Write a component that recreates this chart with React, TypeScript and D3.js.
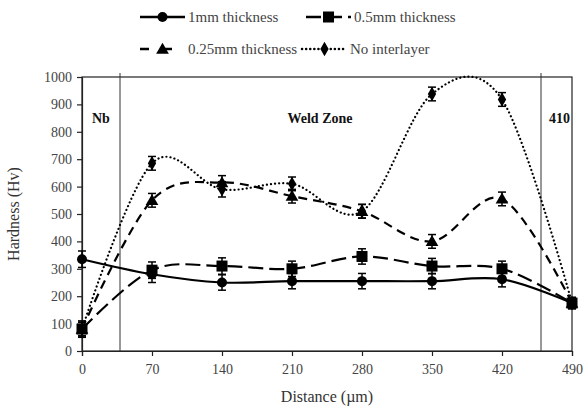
import React, { useEffect, useRef } from 'react';
import * as d3 from 'd3';

// distances along the joint (µm)
const distances = [0, 70, 140, 210, 280, 350, 420, 490];

const hv1mm = [335, 280, 250, 255, 255, 255, 262, 175];
const hv05mm = [80, 295, 310, 300, 345, 310, 300, 175];
const hv025mm = [80, 550, 615, 565, 510, 400, 555, 175];
const hvNone = [80, 685, 590, 610, 510, 938, 918, 175];

const err1mm = [30, 30, 28, 28, 28, 28, 28, 20];
const err05mm = [30, 30, 30, 28, 28, 28, 28, 20];
const err025mm = [25, 25, 25, 25, 25, 25, 25, 20];
const errNone = [25, 25, 28, 25, 25, 25, 25, 20];

const seriesNames = ['1mm thickness', '0.5mm thickness', '0.25mm thickness', 'No interlayer'];
const yTicks = [0, 100, 200, 300, 400, 500, 600, 700, 800, 900, 1000];
const zoneBounds = [38, 459];

const series = [
  { name: seriesNames[0], values: hv1mm, errs: err1mm, dash: null, marker: 'circle' },
  { name: seriesNames[1], values: hv05mm, errs: err05mm, dash: '15,6', marker: 'square' },
  { name: seriesNames[2], values: hv025mm, errs: err025mm, dash: '9,6', marker: 'triangle' },
  { name: seriesNames[3], values: hvNone, errs: errNone, dash: '0.1,4', marker: 'diamond' },
];

function drawMarker(g, kind, x, y) {
  if (kind === 'circle') {
    g.append('circle').attr('cx', x).attr('cy', y).attr('r', 5).attr('fill', '#000');
  } else if (kind === 'square') {
    g.append('rect').attr('x', x - 5.5).attr('y', y - 5.5).attr('width', 11).attr('height', 11).attr('fill', '#000');
  } else if (kind === 'triangle') {
    g.append('path').attr('d', d3.symbol(d3.symbolTriangle, 70)()).attr('transform', `translate(${x},${y + 1})`).attr('fill', '#000');
  } else {
    g.append('path').attr('d', d3.symbol(d3.symbolDiamond, 60)()).attr('transform', `translate(${x},${y})`).attr('fill', '#000');
  }
}

function Chart() {
  const ref = useRef(null);
  const width = 586;
  const height = 412;

  useEffect(() => {
    const svg = d3.select(ref.current);
    svg.selectAll('*').remove();

    const margin = { top: 77, right: 14, bottom: 61, left: 82 };
    const x = d3.scaleLinear().domain([0, 490]).range([margin.left, width - margin.right]);
    const y = d3.scaleLinear().domain([0, 1000]).range([height - margin.bottom, margin.top]);

    const font = '"Liberation Serif", "Times New Roman", serif';

    // frame
    svg.append('rect')
      .attr('x', x(0)).attr('y', y(1000))
      .attr('width', x(490) - x(0)).attr('height', y(0) - y(1000))
      .attr('fill', 'none').attr('stroke', '#222').attr('stroke-width', 1.2);

    const xAxis = svg.append('g')
      .attr('transform', `translate(0,${y(0)})`)
      .call(d3.axisBottom(x).tickValues(distances).tickFormat(d3.format('d')).tickSizeOuter(0).tickSize(5).tickPadding(8));
    const yAxis = svg.append('g')
      .attr('transform', `translate(${x(0)},0)`)
      .call(d3.axisLeft(y).tickValues(yTicks).tickFormat(d3.format('d')).tickSizeOuter(0).tickSize(5).tickPadding(5));
    [xAxis, yAxis].forEach(a => {
      a.selectAll('text').attr('font-family', font).attr('font-size', 14).attr('fill', '#444');
      a.selectAll('line, path').attr('stroke', '#222').attr('stroke-width', 1.2);
    });

    // zone boundaries
    zoneBounds.forEach(b => {
      svg.append('line')
        .attr('x1', x(b)).attr('x2', x(b))
        .attr('y1', y(0)).attr('y2', y(1000) - 4)
        .attr('stroke', '#333').attr('stroke-width', 1);
    });

    const labels = [
      { t: 'Nb', x: x(0) + 10, a: 'start' },
      { t: 'Weld Zone', x: x(238), a: 'middle' },
      { t: '410', x: x(490) - 2, a: 'end' },
    ];
    labels.forEach(l => {
      svg.append('text')
        .attr('x', l.x).attr('y', y(850) + 5)
        .attr('text-anchor', l.a)
        .attr('font-family', font).attr('font-size', 14).attr('font-weight', 'bold')
        .attr('fill', '#111')
        .text(l.t);
    });

    const line = d3.line()
      .x((d, i) => x(distances[i]))
      .y(d => y(d))
      .curve(d3.curveCardinal.tension(0));

    series.forEach(s => {
      svg.append('path')
        .datum(s.values)
        .attr('fill', 'none')
        .attr('stroke', '#000')
        .attr('stroke-width', 2.2)
        .attr('stroke-linecap', s.marker === 'diamond' ? 'round' : 'butt')
        .attr('stroke-dasharray', s.dash)
        .attr('d', line);
    });

    series.forEach(s => {
      const g = svg.append('g');
      s.values.forEach((v, i) => {
        const cx = x(distances[i]);
        const e = s.errs[i];
        g.append('line').attr('x1', cx).attr('x2', cx).attr('y1', y(v - e)).attr('y2', y(v + e)).attr('stroke', '#000').attr('stroke-width', 1.5);
        [v - e, v + e].forEach(ev => {
          g.append('line').attr('x1', cx - 4).attr('x2', cx + 4).attr('y1', y(ev)).attr('y2', y(ev)).attr('stroke', '#000').attr('stroke-width', 1.5);
        });
        drawMarker(g, s.marker, cx, y(v));
      });
    });

    // axis titles
    svg.append('text')
      .attr('x', (x(0) + x(490)) / 2).attr('y', 402)
      .attr('text-anchor', 'middle')
      .attr('font-family', font).attr('font-size', 16).attr('fill', '#333')
      .text('Distance (µm)');
    svg.append('text')
      .attr('transform', `translate(19,${(y(0) + y(1000)) / 2}) rotate(-90)`)
      .attr('text-anchor', 'middle')
      .attr('font-family', font).attr('font-size', 16).attr('fill', '#333')
      .text('Hardness (Hv)');

    // legend
    const legendPos = [
      { lx: 140, ly: 17 },
      { lx: 306, ly: 17 },
      { lx: 140, ly: 49 },
      { lx: 302, ly: 49 },
    ];
    series.forEach((s, i) => {
      const p = legendPos[i];
      const g = svg.append('g');
      g.append('line')
        .attr('x1', p.lx).attr('x2', p.lx + 45)
        .attr('y1', p.ly).attr('y2', p.ly)
        .attr('stroke', '#000').attr('stroke-width', 2.5)
        .attr('stroke-linecap', s.marker === 'diamond' ? 'round' : 'butt')
        .attr('stroke-dasharray', s.marker === 'triangle' ? '9,14' : s.dash);
      drawMarker(g, s.marker, p.lx + 22.5, p.ly);
      g.append('text')
        .attr('x', p.lx + 48).attr('y', p.ly + 5)
        .attr('font-family', font).attr('font-size', 15).attr('fill', '#444')
        .text(s.name);
    });
  }, []);

  return <svg ref={ref} width={width} height={height} style={{ display: 'block' }} />;
}

export default function App() {
  return (
    <div style={{ position: 'absolute', left: 0, top: 0, background: '#fff' }}>
      <Chart />
    </div>
  );
}
